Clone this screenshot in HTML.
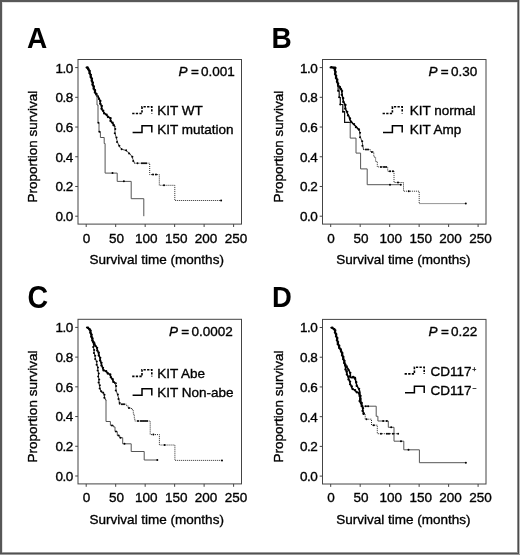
<!DOCTYPE html>
<html><head><meta charset="utf-8"><style>
html,body{margin:0;padding:0;background:#fff;}
svg{display:block;will-change:transform;}
text{font-family:"Liberation Sans", sans-serif;fill:#000;font-size:13.5px;stroke:#000;stroke-width:0.35px;}
</style></head><body>
<svg width="520" height="555" viewBox="0 0 520 555" shape-rendering="auto">
<rect x="0" y="0" width="520" height="555" fill="#fff"/>
<text transform="translate(27,47.7) scale(0.95,1)" style="font-size:29.5px;font-weight:bold;stroke:none">A</text>
<g transform="translate(0,0)">
<rect x="78.0" y="59.5" width="163.5" height="164.6" fill="none" stroke="#444" stroke-width="1"/>
<line x1="75.2" y1="216.2" x2="78.0" y2="216.2" stroke="#444" stroke-width="1"/>
<text x="72.8" y="221.1" text-anchor="end" style="letter-spacing:-0.5px">0.0</text>
<line x1="75.2" y1="186.48" x2="78.0" y2="186.48" stroke="#444" stroke-width="1"/>
<text x="72.8" y="191.38" text-anchor="end" style="letter-spacing:-0.5px">0.2</text>
<line x1="75.2" y1="156.76" x2="78.0" y2="156.76" stroke="#444" stroke-width="1"/>
<text x="72.8" y="161.66" text-anchor="end" style="letter-spacing:-0.5px">0.4</text>
<line x1="75.2" y1="127.04" x2="78.0" y2="127.04" stroke="#444" stroke-width="1"/>
<text x="72.8" y="131.94" text-anchor="end" style="letter-spacing:-0.5px">0.6</text>
<line x1="75.2" y1="97.32" x2="78.0" y2="97.32" stroke="#444" stroke-width="1"/>
<text x="72.8" y="102.22" text-anchor="end" style="letter-spacing:-0.5px">0.8</text>
<line x1="75.2" y1="67.6" x2="78.0" y2="67.6" stroke="#444" stroke-width="1"/>
<text x="72.8" y="72.5" text-anchor="end" style="letter-spacing:-0.5px">1.0</text>
<line x1="86.2" y1="224.1" x2="86.2" y2="227" stroke="#444" stroke-width="1"/>
<text x="86.5" y="242.6" text-anchor="middle">0</text>
<line x1="115.68" y1="224.1" x2="115.68" y2="227" stroke="#444" stroke-width="1"/>
<text x="116.4" y="242.6" text-anchor="middle">50</text>
<line x1="145.16" y1="224.1" x2="145.16" y2="227" stroke="#444" stroke-width="1"/>
<text x="146.3" y="242.6" text-anchor="middle">100</text>
<line x1="174.64" y1="224.1" x2="174.64" y2="227" stroke="#444" stroke-width="1"/>
<text x="176.2" y="242.6" text-anchor="middle">150</text>
<line x1="204.12" y1="224.1" x2="204.12" y2="227" stroke="#444" stroke-width="1"/>
<text x="206.1" y="242.6" text-anchor="middle">200</text>
<line x1="233.6" y1="224.1" x2="233.6" y2="227" stroke="#444" stroke-width="1"/>
<text x="236" y="242.6" text-anchor="middle">250</text>
</g>
<text x="89.6" y="263.9" >Survival time (months)</text>
<text transform="translate(37.4,202.6) rotate(-90)">Proportion survival</text>
<text x="178.6" y="75.9" style="font-style:italic">P</text>
<text x="190.9" y="75.9" >=</text>
<text x="201.1" y="75.9" >0.001</text>
<path d="M132.2 113.5 H142 V106.8 H151.8 V113.5" fill="none" stroke="#000" stroke-width="1.6" stroke-dasharray="2.3 1.3"/>
<path d="M132.6 132.4 H142 V125.8 H151.8 V132.5" fill="none" stroke="#000" stroke-width="1.5"/>
<text x="157.2" y="114.7" >KIT WT</text>
<text x="157.2" y="133.8" >KIT mutation</text><text transform="translate(271.6,47.7) scale(0.95,1)" style="font-size:29.5px;font-weight:bold;stroke:none">B</text>
<g transform="translate(244.5,0)">
<rect x="78.0" y="59.5" width="163.5" height="164.6" fill="none" stroke="#444" stroke-width="1"/>
<line x1="75.2" y1="216.2" x2="78.0" y2="216.2" stroke="#444" stroke-width="1"/>
<text x="72.8" y="221.1" text-anchor="end" style="letter-spacing:-0.5px">0.0</text>
<line x1="75.2" y1="186.48" x2="78.0" y2="186.48" stroke="#444" stroke-width="1"/>
<text x="72.8" y="191.38" text-anchor="end" style="letter-spacing:-0.5px">0.2</text>
<line x1="75.2" y1="156.76" x2="78.0" y2="156.76" stroke="#444" stroke-width="1"/>
<text x="72.8" y="161.66" text-anchor="end" style="letter-spacing:-0.5px">0.4</text>
<line x1="75.2" y1="127.04" x2="78.0" y2="127.04" stroke="#444" stroke-width="1"/>
<text x="72.8" y="131.94" text-anchor="end" style="letter-spacing:-0.5px">0.6</text>
<line x1="75.2" y1="97.32" x2="78.0" y2="97.32" stroke="#444" stroke-width="1"/>
<text x="72.8" y="102.22" text-anchor="end" style="letter-spacing:-0.5px">0.8</text>
<line x1="75.2" y1="67.6" x2="78.0" y2="67.6" stroke="#444" stroke-width="1"/>
<text x="72.8" y="72.5" text-anchor="end" style="letter-spacing:-0.5px">1.0</text>
<line x1="86.2" y1="224.1" x2="86.2" y2="227" stroke="#444" stroke-width="1"/>
<text x="86.5" y="242.6" text-anchor="middle">0</text>
<line x1="115.68" y1="224.1" x2="115.68" y2="227" stroke="#444" stroke-width="1"/>
<text x="116.4" y="242.6" text-anchor="middle">50</text>
<line x1="145.16" y1="224.1" x2="145.16" y2="227" stroke="#444" stroke-width="1"/>
<text x="146.3" y="242.6" text-anchor="middle">100</text>
<line x1="174.64" y1="224.1" x2="174.64" y2="227" stroke="#444" stroke-width="1"/>
<text x="176.2" y="242.6" text-anchor="middle">150</text>
<line x1="204.12" y1="224.1" x2="204.12" y2="227" stroke="#444" stroke-width="1"/>
<text x="206.1" y="242.6" text-anchor="middle">200</text>
<line x1="233.6" y1="224.1" x2="233.6" y2="227" stroke="#444" stroke-width="1"/>
<text x="236" y="242.6" text-anchor="middle">250</text>
</g>
<text x="336.2" y="263.9" >Survival time (months)</text>
<text transform="translate(282.7,202.6) rotate(-90)">Proportion survival</text>
<text x="428.4" y="75.7" style="font-style:italic">P</text>
<text x="440.7" y="75.7" >=</text>
<text x="450.9" y="75.7" >0.30</text>
<path d="M382.6 113.5 H392.4 V106.8 H402.2 V113.5" fill="none" stroke="#000" stroke-width="1.6" stroke-dasharray="2.3 1.3"/>
<path d="M383 132.4 H392.4 V125.8 H402.2 V132.5" fill="none" stroke="#000" stroke-width="1.5"/>
<text x="409.8" y="114.7" >KIT normal</text>
<text x="409.8" y="133.8" >KIT Amp</text><text transform="translate(27.6,308) scale(0.97,1.07)" style="font-size:29.5px;font-weight:bold;stroke:none">C</text>
<g transform="translate(0,259.8)">
<rect x="78.0" y="59.5" width="163.5" height="164.6" fill="none" stroke="#444" stroke-width="1"/>
<line x1="75.2" y1="216.2" x2="78.0" y2="216.2" stroke="#444" stroke-width="1"/>
<text x="72.8" y="221.1" text-anchor="end" style="letter-spacing:-0.5px">0.0</text>
<line x1="75.2" y1="186.48" x2="78.0" y2="186.48" stroke="#444" stroke-width="1"/>
<text x="72.8" y="191.38" text-anchor="end" style="letter-spacing:-0.5px">0.2</text>
<line x1="75.2" y1="156.76" x2="78.0" y2="156.76" stroke="#444" stroke-width="1"/>
<text x="72.8" y="161.66" text-anchor="end" style="letter-spacing:-0.5px">0.4</text>
<line x1="75.2" y1="127.04" x2="78.0" y2="127.04" stroke="#444" stroke-width="1"/>
<text x="72.8" y="131.94" text-anchor="end" style="letter-spacing:-0.5px">0.6</text>
<line x1="75.2" y1="97.32" x2="78.0" y2="97.32" stroke="#444" stroke-width="1"/>
<text x="72.8" y="102.22" text-anchor="end" style="letter-spacing:-0.5px">0.8</text>
<line x1="75.2" y1="67.6" x2="78.0" y2="67.6" stroke="#444" stroke-width="1"/>
<text x="72.8" y="72.5" text-anchor="end" style="letter-spacing:-0.5px">1.0</text>
<line x1="86.2" y1="224.1" x2="86.2" y2="227" stroke="#444" stroke-width="1"/>
<text x="86.5" y="242.6" text-anchor="middle">0</text>
<line x1="115.68" y1="224.1" x2="115.68" y2="227" stroke="#444" stroke-width="1"/>
<text x="116.4" y="242.6" text-anchor="middle">50</text>
<line x1="145.16" y1="224.1" x2="145.16" y2="227" stroke="#444" stroke-width="1"/>
<text x="146.3" y="242.6" text-anchor="middle">100</text>
<line x1="174.64" y1="224.1" x2="174.64" y2="227" stroke="#444" stroke-width="1"/>
<text x="176.2" y="242.6" text-anchor="middle">150</text>
<line x1="204.12" y1="224.1" x2="204.12" y2="227" stroke="#444" stroke-width="1"/>
<text x="206.1" y="242.6" text-anchor="middle">200</text>
<line x1="233.6" y1="224.1" x2="233.6" y2="227" stroke="#444" stroke-width="1"/>
<text x="236" y="242.6" text-anchor="middle">250</text>
</g>
<text x="89.6" y="523.8" >Survival time (months)</text>
<text transform="translate(37.4,462.4) rotate(-90)">Proportion survival</text>
<text x="168.9" y="336.2" style="font-style:italic">P</text>
<text x="181.2" y="336.2" >=</text>
<text x="191.4" y="336.2" >0.0002</text>
<path d="M132.2 376.4 H142 V369.7 H151.8 V376.4" fill="none" stroke="#000" stroke-width="1.6" stroke-dasharray="2.3 1.3"/>
<path d="M132.6 395.3 H142 V388.7 H151.8 V395.4" fill="none" stroke="#000" stroke-width="1.5"/>
<text x="157.2" y="377.6" >KIT Abe</text>
<text x="157.2" y="396.7" >KIT Non-abe</text><text transform="translate(272,307.1) scale(0.93,1)" style="font-size:29.5px;font-weight:bold;stroke:none">D</text>
<g transform="translate(244.5,259.9)">
<rect x="78.0" y="59.5" width="163.5" height="164.6" fill="none" stroke="#444" stroke-width="1"/>
<line x1="75.2" y1="216.2" x2="78.0" y2="216.2" stroke="#444" stroke-width="1"/>
<text x="72.8" y="221.1" text-anchor="end" style="letter-spacing:-0.5px">0.0</text>
<line x1="75.2" y1="186.48" x2="78.0" y2="186.48" stroke="#444" stroke-width="1"/>
<text x="72.8" y="191.38" text-anchor="end" style="letter-spacing:-0.5px">0.2</text>
<line x1="75.2" y1="156.76" x2="78.0" y2="156.76" stroke="#444" stroke-width="1"/>
<text x="72.8" y="161.66" text-anchor="end" style="letter-spacing:-0.5px">0.4</text>
<line x1="75.2" y1="127.04" x2="78.0" y2="127.04" stroke="#444" stroke-width="1"/>
<text x="72.8" y="131.94" text-anchor="end" style="letter-spacing:-0.5px">0.6</text>
<line x1="75.2" y1="97.32" x2="78.0" y2="97.32" stroke="#444" stroke-width="1"/>
<text x="72.8" y="102.22" text-anchor="end" style="letter-spacing:-0.5px">0.8</text>
<line x1="75.2" y1="67.6" x2="78.0" y2="67.6" stroke="#444" stroke-width="1"/>
<text x="72.8" y="72.5" text-anchor="end" style="letter-spacing:-0.5px">1.0</text>
<line x1="86.2" y1="224.1" x2="86.2" y2="227" stroke="#444" stroke-width="1"/>
<text x="86.5" y="242.6" text-anchor="middle">0</text>
<line x1="115.68" y1="224.1" x2="115.68" y2="227" stroke="#444" stroke-width="1"/>
<text x="116.4" y="242.6" text-anchor="middle">50</text>
<line x1="145.16" y1="224.1" x2="145.16" y2="227" stroke="#444" stroke-width="1"/>
<text x="146.3" y="242.6" text-anchor="middle">100</text>
<line x1="174.64" y1="224.1" x2="174.64" y2="227" stroke="#444" stroke-width="1"/>
<text x="176.2" y="242.6" text-anchor="middle">150</text>
<line x1="204.12" y1="224.1" x2="204.12" y2="227" stroke="#444" stroke-width="1"/>
<text x="206.1" y="242.6" text-anchor="middle">200</text>
<line x1="233.6" y1="224.1" x2="233.6" y2="227" stroke="#444" stroke-width="1"/>
<text x="236" y="242.6" text-anchor="middle">250</text>
</g>
<text x="336.2" y="523.8" >Survival time (months)</text>
<text transform="translate(282.7,462.4) rotate(-90)">Proportion survival</text>
<text x="428.6" y="336.2" style="font-style:italic">P</text>
<text x="440.9" y="336.2" >=</text>
<text x="451.1" y="336.2" >0.22</text>
<path d="M404.6 373.9 H414.4 V367.2 H424.2 V373.9" fill="none" stroke="#000" stroke-width="1.6" stroke-dasharray="2.3 1.3"/>
<path d="M405 392.8 H414.4 V386.2 H424.2 V392.9" fill="none" stroke="#000" stroke-width="1.5"/>
<text x="430.4" y="375.8">CD117<tspan style="font-size:7px;stroke-width:0.25px" dx="0.8" dy="-4.2">+</tspan></text>
<text x="430.4" y="394.8">CD117<tspan style="font-size:7px;stroke-width:0.25px" dx="0.8" dy="-4.2">−</tspan></text>
<path d="M86.5 67.5 L88.3 68.3 L89.4 71.5 L90.5 75.2 L91.9 80 L92.9 84.8 L94.1 88.8 L95.4 92.6 L96.8 95.6" fill="none" stroke="#000" stroke-width="2.0" stroke-linejoin="round" stroke-linecap="round"/>
<circle cx="87.6" cy="67.49" r="1.15" fill="#000"/>
<circle cx="88.21" cy="69.42" r="1.15" fill="#000"/>
<circle cx="89.71" cy="71.02" r="1.15" fill="#000"/>
<circle cx="89.44" cy="73.21" r="1.15" fill="#000"/>
<circle cx="90.87" cy="74.87" r="1.15" fill="#000"/>
<circle cx="90.57" cy="77.04" r="1.15" fill="#000"/>
<circle cx="91.99" cy="78.71" r="1.15" fill="#000"/>
<circle cx="91.62" cy="80.86" r="1.15" fill="#000"/>
<circle cx="92.91" cy="82.64" r="1.15" fill="#000"/>
<circle cx="92.44" cy="84.78" r="1.15" fill="#000"/>
<circle cx="93.87" cy="86.47" r="1.15" fill="#000"/>
<circle cx="93.58" cy="88.65" r="1.15" fill="#000"/>
<circle cx="95.08" cy="90.27" r="1.15" fill="#000"/>
<circle cx="94.87" cy="92.45" r="1.15" fill="#000"/>
<circle cx="96.52" cy="93.94" r="1.15" fill="#000"/>
<path d="M96.8 95.6 L99.3 98.6 L100.4 102.9 L101.5 106.5 L102.2 110.1 L104.4 113 L107.3 115.9 L110.1 118.1 L111.2 121.7 L113.7 124.6 L114.8 126.7" fill="none" stroke="#000" stroke-width="1.5" stroke-linejoin="round" stroke-linecap="round"/>
<circle cx="97.98" cy="96.31" r="1.15" fill="#000"/>
<circle cx="98.95" cy="98.88" r="1.15" fill="#000"/>
<circle cx="100.38" cy="101" r="1.15" fill="#000"/>
<circle cx="100.19" cy="103.75" r="1.15" fill="#000"/>
<circle cx="101.81" cy="105.98" r="1.15" fill="#000"/>
<circle cx="101.48" cy="108.74" r="1.15" fill="#000"/>
<circle cx="103.24" cy="110.72" r="1.15" fill="#000"/>
<circle cx="104.14" cy="113.38" r="1.15" fill="#000"/>
<circle cx="106.62" cy="114.58" r="1.15" fill="#000"/>
<circle cx="107.95" cy="116.98" r="1.15" fill="#000"/>
<circle cx="110.6" cy="118.18" r="1.15" fill="#000"/>
<circle cx="110.49" cy="120.93" r="1.15" fill="#000"/>
<circle cx="112.62" cy="122.66" r="1.15" fill="#000"/>
<circle cx="113.5" cy="125.19" r="1.15" fill="#000"/>
<path d="M114.8 126.7 L115 132.2 L115.8 136.5 L117.6 142.3 L119.4 147 L122.6 149.5 L125.1 150.2 L129.1 152.8 L131.6 156 L133.1 159.6 L134.5 163.2" fill="none" stroke="#444" stroke-width="1.0" stroke-linejoin="round" stroke-linecap="round"/>
<circle cx="115.33" cy="128.88" r="1.0" fill="#000"/>
<circle cx="114.76" cy="133.36" r="1.0" fill="#000"/>
<circle cx="116.56" cy="137.44" r="1.0" fill="#000"/>
<circle cx="117.01" cy="141.91" r="1.0" fill="#000"/>
<circle cx="119.4" cy="145.73" r="1.0" fill="#000"/>
<circle cx="121.66" cy="149.34" r="1.0" fill="#000"/>
<circle cx="126.15" cy="150.35" r="1.0" fill="#000"/>
<circle cx="129.11" cy="153.54" r="1.0" fill="#000"/>
<circle cx="132.37" cy="156.68" r="1.0" fill="#000"/>
<circle cx="133.2" cy="161.09" r="1.0" fill="#000"/>
<path d="M134.5 163.2 L149.7 163.2 L149.7 174.6 L159.3 174.6 L159.3 185.3 L174.8 185.3 L174.8 200.5 L221.1 200.5" fill="none" stroke="#2a2a2a" stroke-width="1" stroke-dasharray="1 1"/>
<circle cx="137.5" cy="163.2" r="1" fill="#000"/>
<circle cx="142" cy="163.2" r="1" fill="#000"/>
<circle cx="144" cy="163.2" r="1" fill="#000"/>
<circle cx="146" cy="163.2" r="1" fill="#000"/>
<circle cx="153" cy="174.6" r="1" fill="#000"/>
<circle cx="156" cy="174.6" r="1" fill="#000"/>
<circle cx="164" cy="185.3" r="1" fill="#000"/>
<circle cx="221.1" cy="200.5" r="1" fill="#000"/>
<path d="M96.7 95.2 L97 95.2 L97 105 L98 105 L98 122.7 L99 122.7 L99 131.7 L100.4 131.7 L100.4 137.5 L104.2 137.5 L104.2 143.5 L105.1 143.5 L105.1 173.1 L117.2 173.1 L117.2 181.4 L131.2 181.4 L131.2 198.7 L143.8 198.7 L143.8 216.2" fill="none" stroke="#555" stroke-width="1"/>
<circle cx="98.4" cy="122.7" r="1" fill="#000"/>
<circle cx="99.4" cy="131.8" r="1" fill="#000"/>
<circle cx="112.5" cy="173.1" r="1" fill="#000"/>
<circle cx="123.9" cy="181.3" r="1" fill="#000"/><path d="M330.5 67.5 L335 67.5 L335.2 72.8 L335.9 76.4 L337 80 L338.1 85.1 L339.5 87.2 L341.3 89.4" fill="none" stroke="#000" stroke-width="2.0" stroke-linejoin="round" stroke-linecap="round"/>
<circle cx="331.5" cy="67.05" r="1.15" fill="#000"/>
<circle cx="333.5" cy="67.95" r="1.15" fill="#000"/>
<circle cx="335.47" cy="67.98" r="1.15" fill="#000"/>
<circle cx="334.64" cy="70.02" r="1.15" fill="#000"/>
<circle cx="335.62" cy="71.98" r="1.15" fill="#000"/>
<circle cx="334.99" cy="74.06" r="1.15" fill="#000"/>
<circle cx="336.25" cy="75.85" r="1.15" fill="#000"/>
<circle cx="335.92" cy="77.99" r="1.15" fill="#000"/>
<circle cx="337.36" cy="79.64" r="1.15" fill="#000"/>
<circle cx="336.93" cy="81.82" r="1.15" fill="#000"/>
<circle cx="338.23" cy="83.58" r="1.15" fill="#000"/>
<circle cx="338.03" cy="85.8" r="1.15" fill="#000"/>
<circle cx="339.86" cy="86.93" r="1.15" fill="#000"/>
<circle cx="340.43" cy="89.05" r="1.15" fill="#000"/>
<path d="M338.1 85.1 L338.1 90.8 L339.2 90.8 L339.2 97.5 L340.3 97.5 L340.3 104.5 L342.8 104.5 L342.8 111.7 L344.6 111.7 L344.6 122.3 L350.2 122.3" fill="none" stroke="#111" stroke-width="1.2"/>
<circle cx="338.2" cy="90.8" r="1" fill="#000"/>
<circle cx="339.2" cy="97.3" r="1" fill="#000"/>
<circle cx="340.3" cy="104.5" r="1" fill="#000"/>
<circle cx="343" cy="111.7" r="1" fill="#000"/>
<path d="M350.2 122.3 L350.2 138.1 L356 138.1 L356 153.1 L360.6 153.1 L360.6 168.9 L367.2 168.9 L367.2 184.7 L400.8 184.7" fill="none" stroke="#555" stroke-width="1"/>
<circle cx="390" cy="184.7" r="1" fill="#000"/>
<circle cx="400.8" cy="184.7" r="1" fill="#000"/>
<path d="M341.3 89.4 L342 93 L342.5 97 L343.5 101.3 L345 104.9 L345.7 109.2 L347.5 113.5 L349 116.4 L350 120 L351.8 122.2 L353 123.7 L356 126.5 L359.4 130.6" fill="none" stroke="#000" stroke-width="1.5" stroke-linejoin="round" stroke-linecap="round"/>
<circle cx="342.09" cy="91.08" r="1.15" fill="#000"/>
<circle cx="341.77" cy="94.78" r="1.15" fill="#000"/>
<circle cx="343.23" cy="98.17" r="1.15" fill="#000"/>
<circle cx="343.27" cy="101.92" r="1.15" fill="#000"/>
<circle cx="345.47" cy="105.01" r="1.15" fill="#000"/>
<circle cx="345.16" cy="108.71" r="1.15" fill="#000"/>
<circle cx="347.29" cy="111.82" r="1.15" fill="#000"/>
<circle cx="348" cy="115.46" r="1.15" fill="#000"/>
<circle cx="350.05" cy="118.5" r="1.15" fill="#000"/>
<circle cx="351.02" cy="121.96" r="1.15" fill="#000"/>
<circle cx="354.04" cy="124.06" r="1.15" fill="#000"/>
<circle cx="355.97" cy="127.17" r="1.15" fill="#000"/>
<circle cx="358.96" cy="129.37" r="1.15" fill="#000"/>
<path d="M359.4 130.6 L360 135.8 L362.3 142.7 L363.5 149.6" fill="none" stroke="#444" stroke-width="1.0" stroke-linejoin="round" stroke-linecap="round"/>
<circle cx="360.1" cy="132.73" r="1.0" fill="#000"/>
<circle cx="360" cy="137.24" r="1.0" fill="#000"/>
<circle cx="362.25" cy="141.13" r="1.0" fill="#000"/>
<circle cx="362.35" cy="145.63" r="1.0" fill="#000"/>
<path d="M363.5 149.6 L370.4 149.6 L370.4 152 L373.8 152 L373.8 157 L375.6 157 L375.6 161.5 L377.3 161.5 L377.3 166.9 L387.7 166.9 L387.7 171.3 L394 171.3 L394 182.5 L403.5 182.5 L403.5 191.2 L419.2 191.2 L419.2 203.6 L465.8 203.6" fill="none" stroke="#2a2a2a" stroke-width="1" stroke-dasharray="1 1"/>
<circle cx="366" cy="149.6" r="1" fill="#000"/>
<circle cx="368" cy="149.6" r="1" fill="#000"/>
<circle cx="372" cy="152" r="1" fill="#000"/>
<circle cx="381" cy="166.9" r="1" fill="#000"/>
<circle cx="384" cy="166.9" r="1" fill="#000"/>
<circle cx="386" cy="166.9" r="1" fill="#000"/>
<circle cx="390" cy="171.3" r="1" fill="#000"/>
<circle cx="393" cy="171.3" r="1" fill="#000"/>
<circle cx="398" cy="182.5" r="1" fill="#000"/>
<circle cx="408.8" cy="191.2" r="1" fill="#000"/>
<circle cx="465.8" cy="203.6" r="1" fill="#000"/><path d="M86.9 327.5 L89.8 329.2 L91 333.8 L92.1 338.5 L93.3 342.5" fill="none" stroke="#000" stroke-width="2.0" stroke-linejoin="round" stroke-linecap="round"/>
<circle cx="87.99" cy="327.62" r="1.15" fill="#000"/>
<circle cx="89.26" cy="329.41" r="1.15" fill="#000"/>
<circle cx="90.65" cy="330.67" r="1.15" fill="#000"/>
<circle cx="90.28" cy="332.83" r="1.15" fill="#000"/>
<circle cx="91.64" cy="334.56" r="1.15" fill="#000"/>
<circle cx="91.22" cy="336.71" r="1.15" fill="#000"/>
<circle cx="92.55" cy="338.43" r="1.15" fill="#000"/>
<circle cx="92.26" cy="340.6" r="1.15" fill="#000"/>
<circle cx="93.7" cy="342.26" r="1.15" fill="#000"/>
<path d="M93.3 342.5 L93.8 350 L95 356.9 L96.7 362.7 L97.9 369.6 L98.3 372 L98.7 378.7 L99.2 384.5 L100.2 388.8 L101.1 392.2 L103.5 392.2 L104.5 397 L105.5 399.9 L106 400" fill="none" stroke="#222" stroke-width="1.0" stroke-linejoin="round" stroke-linecap="round"/>
<circle cx="93.85" cy="343.97" r="1.0" fill="#000"/>
<circle cx="93.15" cy="347.02" r="1.0" fill="#000"/>
<circle cx="94.25" cy="349.95" r="1.0" fill="#000"/>
<circle cx="93.87" cy="353.02" r="1.0" fill="#000"/>
<circle cx="95.27" cy="355.82" r="1.0" fill="#000"/>
<circle cx="95.13" cy="358.93" r="1.0" fill="#000"/>
<circle cx="96.83" cy="361.55" r="1.0" fill="#000"/>
<circle cx="96.59" cy="364.68" r="1.0" fill="#000"/>
<circle cx="97.99" cy="367.49" r="1.0" fill="#000"/>
<circle cx="97.61" cy="370.59" r="1.0" fill="#000"/>
<circle cx="98.84" cy="373.47" r="1.0" fill="#000"/>
<circle cx="98.12" cy="376.52" r="1.0" fill="#000"/>
<circle cx="99.22" cy="379.45" r="1.0" fill="#000"/>
<circle cx="98.58" cy="382.51" r="1.0" fill="#000"/>
<circle cx="99.86" cy="385.34" r="1.0" fill="#000"/>
<circle cx="99.66" cy="388.46" r="1.0" fill="#000"/>
<circle cx="101.29" cy="391.15" r="1.0" fill="#000"/>
<circle cx="103.13" cy="392.65" r="1.0" fill="#000"/>
<circle cx="104.48" cy="394.69" r="1.0" fill="#000"/>
<circle cx="104.31" cy="397.84" r="1.0" fill="#000"/>
<path d="M106 400 L106 421.5 L110.4 421.5 L110.4 425.4 L113.5 425.4 L113.5 426.9 L115 426.9 L115 431.5 L117.3 431.5 L117.3 435.4 L119.6 435.4 L119.6 437.7 L122.7 437.7 L122.7 443.8 L131.2 443.8 L131.2 451.5 L144.2 451.5 L144.2 460 L157.3 460" fill="none" stroke="#555" stroke-width="1"/>
<circle cx="112" cy="425.4" r="1" fill="#000"/>
<circle cx="116" cy="431.5" r="1" fill="#000"/>
<circle cx="118.5" cy="435.4" r="1" fill="#000"/>
<circle cx="120.5" cy="437.7" r="1" fill="#000"/>
<circle cx="124.5" cy="443.8" r="1" fill="#000"/>
<circle cx="157.3" cy="460" r="1" fill="#000"/>
<path d="M93.3 342.5 L96.2 346.5 L97.9 351.2 L99.6 356.9 L101.3 363.8 L103.1 369.6 L106.5 371.9 L110 374.8 L112.3 379.4 L113.6 381.6 L115.5 383.8" fill="none" stroke="#000" stroke-width="1.5" stroke-linejoin="round" stroke-linecap="round"/>
<circle cx="94.43" cy="343.29" r="1.15" fill="#000"/>
<circle cx="95.22" cy="345.92" r="1.15" fill="#000"/>
<circle cx="97.15" cy="347.81" r="1.15" fill="#000"/>
<circle cx="97.19" cy="350.56" r="1.15" fill="#000"/>
<circle cx="98.83" cy="352.76" r="1.15" fill="#000"/>
<circle cx="98.72" cy="355.51" r="1.15" fill="#000"/>
<circle cx="100.28" cy="357.78" r="1.15" fill="#000"/>
<circle cx="100.03" cy="360.52" r="1.15" fill="#000"/>
<circle cx="101.52" cy="362.83" r="1.15" fill="#000"/>
<circle cx="101.38" cy="365.56" r="1.15" fill="#000"/>
<circle cx="103.01" cy="367.78" r="1.15" fill="#000"/>
<circle cx="103.54" cy="370.44" r="1.15" fill="#000"/>
<circle cx="106.2" cy="371.15" r="1.15" fill="#000"/>
<circle cx="107.7" cy="373.48" r="1.15" fill="#000"/>
<circle cx="110.27" cy="374.44" r="1.15" fill="#000"/>
<circle cx="110.75" cy="377.31" r="1.15" fill="#000"/>
<circle cx="112.71" cy="379.21" r="1.15" fill="#000"/>
<circle cx="113.32" cy="381.96" r="1.15" fill="#000"/>
<circle cx="115.7" cy="383.34" r="1.15" fill="#000"/>
<path d="M115.5 383.8 L116.2 390.4 L117.6 395 L119 399.2 L119.4 404.2" fill="none" stroke="#444" stroke-width="1.0" stroke-linejoin="round" stroke-linecap="round"/>
<circle cx="116.18" cy="385.94" r="1.0" fill="#000"/>
<circle cx="115.75" cy="390.41" r="1.0" fill="#000"/>
<circle cx="117.9" cy="394.44" r="1.0" fill="#000"/>
<circle cx="118.42" cy="398.89" r="1.0" fill="#000"/>
<circle cx="119.76" cy="403.08" r="1.0" fill="#000"/>
<path d="M119.4 404.2 L125.7 404.2 L126.6 404.2 L126.6 405.7 L128 405.7 L128 408 L130.5 408 L130.5 408.5 L132.4 408.5 L132.4 410.5 L133.3 410.5 L133.3 414.3 L134.3 414.3 L134.3 418.2 L134.8 418.2 L134.8 421 L150.2 421 L150.2 434.6 L159.4 434.6 L159.4 445 L174.9 445 L174.9 460.4 L222 460.4" fill="none" stroke="#2a2a2a" stroke-width="1" stroke-dasharray="1 1"/>
<circle cx="122" cy="404.2" r="1" fill="#000"/>
<circle cx="124" cy="404.2" r="1" fill="#000"/>
<circle cx="129" cy="408" r="1" fill="#000"/>
<circle cx="138" cy="421" r="1" fill="#000"/>
<circle cx="141" cy="421" r="1" fill="#000"/>
<circle cx="143" cy="421" r="1" fill="#000"/>
<circle cx="145" cy="421" r="1" fill="#000"/>
<circle cx="147" cy="421" r="1" fill="#000"/>
<circle cx="153.4" cy="434.6" r="1" fill="#000"/>
<circle cx="164.6" cy="445" r="1" fill="#000"/>
<circle cx="222" cy="460.4" r="1" fill="#000"/><path d="M331.25 327.7 L334.6 329.1 L335.6 333.5 L337 338.3 L337.8 343.1 L339.6 347.9 L341.6 351.7 L342.8 356.5 L344.2 361.3 L345.2 365.5" fill="none" stroke="#000" stroke-width="2.0" stroke-linejoin="round" stroke-linecap="round"/>
<circle cx="332.35" cy="327.67" r="1.15" fill="#000"/>
<circle cx="333.84" cy="329.27" r="1.15" fill="#000"/>
<circle cx="335.34" cy="330.34" r="1.15" fill="#000"/>
<circle cx="334.91" cy="332.49" r="1.15" fill="#000"/>
<circle cx="336.27" cy="334.2" r="1.15" fill="#000"/>
<circle cx="335.97" cy="336.37" r="1.15" fill="#000"/>
<circle cx="337.39" cy="338.04" r="1.15" fill="#000"/>
<circle cx="336.86" cy="340.21" r="1.15" fill="#000"/>
<circle cx="338.08" cy="342.03" r="1.15" fill="#000"/>
<circle cx="337.73" cy="344.19" r="1.15" fill="#000"/>
<circle cx="339.27" cy="345.74" r="1.15" fill="#000"/>
<circle cx="339.13" cy="347.93" r="1.15" fill="#000"/>
<circle cx="340.87" cy="349.34" r="1.15" fill="#000"/>
<circle cx="341" cy="351.53" r="1.15" fill="#000"/>
<circle cx="342.42" cy="353.11" r="1.15" fill="#000"/>
<circle cx="342.03" cy="355.27" r="1.15" fill="#000"/>
<circle cx="343.41" cy="356.97" r="1.15" fill="#000"/>
<circle cx="343.1" cy="359.14" r="1.15" fill="#000"/>
<circle cx="344.53" cy="360.81" r="1.15" fill="#000"/>
<circle cx="344.14" cy="362.98" r="1.15" fill="#000"/>
<circle cx="345.48" cy="364.72" r="1.15" fill="#000"/>
<path d="M345.2 365.5 L347.5 368 L349 370.2 L350.4 374.5 L350.4 377.4 L355.3 377.4 L355.8 382.2 L357.2 386 L359.6 390.8 L360.1 395.7 L361.1 402.4 L362.5 406.2" fill="none" stroke="#000" stroke-width="1.5" stroke-linejoin="round" stroke-linecap="round"/>
<circle cx="346.75" cy="366.52" r="1.15" fill="#000"/>
<circle cx="348.26" cy="369.91" r="1.15" fill="#000"/>
<circle cx="350.34" cy="372.86" r="1.15" fill="#000"/>
<circle cx="349.95" cy="376.52" r="1.15" fill="#000"/>
<circle cx="353.12" cy="376.95" r="1.15" fill="#000"/>
<circle cx="355" cy="378.86" r="1.15" fill="#000"/>
<circle cx="356.29" cy="382.22" r="1.15" fill="#000"/>
<circle cx="356.69" cy="385.91" r="1.15" fill="#000"/>
<circle cx="359.1" cy="388.79" r="1.15" fill="#000"/>
<circle cx="359.31" cy="392.41" r="1.15" fill="#000"/>
<circle cx="360.58" cy="395.88" r="1.15" fill="#000"/>
<circle cx="360.22" cy="399.57" r="1.15" fill="#000"/>
<circle cx="361.76" cy="402.88" r="1.15" fill="#000"/>
<circle cx="352" cy="377.4" r="1" fill="#000"/>
<circle cx="354" cy="377.4" r="1" fill="#000"/>
<path d="M362.5 406.2 L376.2 406.2 L376.2 416.3 L377.9 416.3 L377.9 421 L388.3 421 L388.3 427.3 L394 427.3 L394 441.2 L403.8 441.2 L403.8 449.8 L419.4 449.8 L419.4 462.7 L465.9 462.7" fill="none" stroke="#555" stroke-width="1"/>
<circle cx="365.8" cy="406.2" r="1" fill="#000"/>
<circle cx="368.1" cy="406.2" r="1" fill="#000"/>
<circle cx="383.1" cy="421" r="1" fill="#000"/>
<circle cx="386.8" cy="421" r="1" fill="#000"/>
<circle cx="391.2" cy="427.3" r="1" fill="#000"/>
<circle cx="401" cy="441.2" r="1" fill="#000"/>
<circle cx="408.5" cy="449.8" r="1" fill="#000"/>
<circle cx="465.9" cy="462.7" r="1" fill="#000"/>
<path d="M345.2 365.5 L346.1 371 L348.3 377.4 L350.4 383.9 L351.9 388 L355.3 390.8 L358.2 392.8 L360 395.5 L360 402 L362.3 406.5 L363.5 414" fill="none" stroke="#000" stroke-width="1.5" stroke-linejoin="round" stroke-linecap="round"/>
<circle cx="345.85" cy="366.71" r="1.15" fill="#000"/>
<circle cx="345.39" cy="369.42" r="1.15" fill="#000"/>
<circle cx="346.83" cy="371.73" r="1.15" fill="#000"/>
<circle cx="346.82" cy="374.48" r="1.15" fill="#000"/>
<circle cx="348.52" cy="376.65" r="1.15" fill="#000"/>
<circle cx="348.47" cy="379.4" r="1.15" fill="#000"/>
<circle cx="350.13" cy="381.6" r="1.15" fill="#000"/>
<circle cx="350.09" cy="384.36" r="1.15" fill="#000"/>
<circle cx="351.83" cy="386.5" r="1.15" fill="#000"/>
<circle cx="352.51" cy="389.09" r="1.15" fill="#000"/>
<circle cx="355.09" cy="390.04" r="1.15" fill="#000"/>
<circle cx="356.66" cy="392.28" r="1.15" fill="#000"/>
<circle cx="359.15" cy="393.41" r="1.15" fill="#000"/>
<circle cx="359.55" cy="395.89" r="1.15" fill="#000"/>
<circle cx="360.45" cy="398.49" r="1.15" fill="#000"/>
<circle cx="359.55" cy="401.09" r="1.15" fill="#000"/>
<circle cx="361.17" cy="403.3" r="1.15" fill="#000"/>
<circle cx="361.55" cy="406.03" r="1.15" fill="#000"/>
<circle cx="363.03" cy="408.24" r="1.15" fill="#000"/>
<circle cx="362.56" cy="410.95" r="1.15" fill="#000"/>
<circle cx="363.86" cy="413.38" r="1.15" fill="#000"/>
<path d="M363.5 414 L365.2 414 L365.2 419.2 L371.5 419.2 L371.5 425.2 L377.3 425.2 L377.3 433.7 L398.1 433.7" fill="none" stroke="#2a2a2a" stroke-width="1" stroke-dasharray="1 1"/>
<circle cx="363.5" cy="414" r="1" fill="#000"/>
<circle cx="366.5" cy="419.2" r="1" fill="#000"/>
<circle cx="373.8" cy="425.2" r="1" fill="#000"/>
<circle cx="381" cy="433.7" r="1" fill="#000"/>
<circle cx="387" cy="433.7" r="1" fill="#000"/>
<circle cx="389" cy="433.7" r="1" fill="#000"/>
<circle cx="393" cy="433.7" r="1" fill="#000"/>
<circle cx="398.1" cy="433.7" r="1" fill="#000"/>
<rect x="0" y="2" width="520" height="1" fill="#e2e2e2"/>
<rect x="2" y="0" width="1" height="555" fill="#e2e2e2"/>
<rect x="0" y="552" width="520" height="1" fill="#999"/>
<rect x="517" y="0" width="1" height="555" fill="#8a8a8a"/>
<rect x="0" y="0" width="520" height="2" fill="#585858"/>
<rect x="0" y="0" width="2" height="555" fill="#575757"/>
<rect x="518" y="0" width="1" height="555" fill="#4c4c4c"/>
<rect x="0" y="553" width="520" height="1" fill="#505050"/>
<rect x="519" y="0" width="1" height="555" fill="#bbb"/>
<rect x="0" y="554" width="520" height="1" fill="#9a9a9a"/>
</svg>
</body></html>
